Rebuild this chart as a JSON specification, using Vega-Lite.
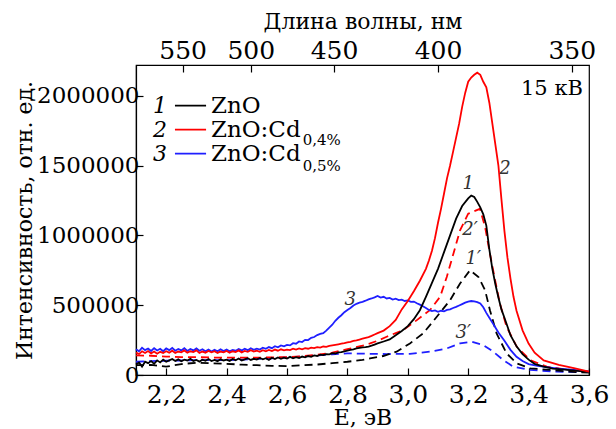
{
  "$schema": "https://vega.github.io/schema/vega-lite/v6.json",
  "width": 453,
  "height": 310,
  "autosize": {"type": "none"},
  "padding": {"left": 136, "top": 65, "right": 27, "bottom": 54},
  "background": "white",
  "config": {
    "font": "DejaVu Serif",
    "view": {"stroke": "black", "strokeWidth": 1.2},
    "text": {"font": "DejaVu Serif"},
    "axis": {
      "grid": false,
      "domainColor": "black",
      "domainWidth": 1.2,
      "tickColor": "black",
      "tickWidth": 1.2,
      "tickSize": -7,
      "labelFont": "DejaVu Serif",
      "labelFontSize": 25,
      "labelColor": "black",
      "labelFlush": false,
      "labelOverlap": false,
      "labelBound": false,
      "titleFont": "DejaVu Serif",
      "titleFontSize": 22,
      "titleFontWeight": "normal",
      "titleColor": "black"
    }
  },
  "datasets": {
    "s1": [
      {"E":2.10,"I":75000},{"E":2.11,"I":90000},{"E":2.12,"I":60000},{"E":2.13,"I":95000},{"E":2.14,"I":85000},
      {"E":2.15,"I":100000},{"E":2.16,"I":80000},{"E":2.17,"I":105000},{"E":2.18,"I":90000},{"E":2.19,"I":110000},
      {"E":2.20,"I":95000},{"E":2.21,"I":105000},{"E":2.22,"I":115000},{"E":2.23,"I":100000},{"E":2.24,"I":112000},
      {"E":2.25,"I":98000},{"E":2.26,"I":110000},{"E":2.27,"I":104000},{"E":2.28,"I":116000},{"E":2.29,"I":100000},
      {"E":2.30,"I":108000},{"E":2.31,"I":96000},{"E":2.32,"I":110000},{"E":2.33,"I":102000},{"E":2.34,"I":114000},
      {"E":2.35,"I":100000},{"E":2.36,"I":108000},{"E":2.37,"I":98000},{"E":2.38,"I":112000},{"E":2.39,"I":104000},
      {"E":2.40,"I":110000},{"E":2.41,"I":100000},{"E":2.42,"I":115000},{"E":2.43,"I":106000},{"E":2.44,"I":118000},
      {"E":2.45,"I":104000},{"E":2.46,"I":112000},{"E":2.47,"I":120000},{"E":2.48,"I":108000},{"E":2.49,"I":116000},
      {"E":2.50,"I":110000},{"E":2.51,"I":122000},{"E":2.52,"I":112000},{"E":2.53,"I":120000},{"E":2.54,"I":108000},
      {"E":2.55,"I":124000},{"E":2.56,"I":114000},{"E":2.57,"I":126000},{"E":2.58,"I":116000},{"E":2.59,"I":124000},
      {"E":2.60,"I":118000},{"E":2.61,"I":130000},{"E":2.62,"I":120000},{"E":2.63,"I":128000},{"E":2.64,"I":122000},
      {"E":2.65,"I":132000},{"E":2.66,"I":126000},{"E":2.67,"I":136000},{"E":2.68,"I":130000},{"E":2.69,"I":140000},
      {"E":2.70,"I":136000},{"E":2.71,"I":146000},{"E":2.72,"I":142000},{"E":2.73,"I":150000},{"E":2.74,"I":148000},
      {"E":2.75,"I":156000},{"E":2.76,"I":154000},{"E":2.77,"I":162000},{"E":2.78,"I":164000},{"E":2.79,"I":170000},
      {"E":2.80,"I":174000},{"E":2.81,"I":180000},{"E":2.82,"I":184000},{"E":2.83,"I":190000},{"E":2.84,"I":194000},
      {"E":2.85,"I":198000},{"E":2.86,"I":200000},{"E":2.87,"I":204000},{"E":2.88,"I":210000},{"E":2.89,"I":218000},
      {"E":2.90,"I":226000},{"E":2.92,"I":240000},{"E":2.94,"I":255000},{"E":2.96,"I":285000},{"E":2.98,"I":315000},
      {"E":3.00,"I":350000},{"E":3.02,"I":400000},{"E":3.04,"I":464000},{"E":3.06,"I":560000},{"E":3.08,"I":660000},
      {"E":3.10,"I":760000},{"E":3.12,"I":880000},{"E":3.14,"I":1000000},{"E":3.16,"I":1120000},{"E":3.18,"I":1210000},
      {"E":3.20,"I":1265000},{"E":3.21,"I":1285000},{"E":3.22,"I":1275000},{"E":3.23,"I":1240000},{"E":3.24,"I":1200000},
      {"E":3.25,"I":1150000},{"E":3.26,"I":1070000},{"E":3.27,"I":900000},{"E":3.28,"I":760000},{"E":3.29,"I":650000},
      {"E":3.30,"I":555000},{"E":3.31,"I":470000},{"E":3.32,"I":410000},{"E":3.34,"I":285000},{"E":3.36,"I":205000},
      {"E":3.38,"I":150000},{"E":3.40,"I":110000},{"E":3.42,"I":80000},{"E":3.45,"I":60000},{"E":3.48,"I":46000},
      {"E":3.52,"I":38000},{"E":3.56,"I":30000},{"E":3.60,"I":22000}
    ],
    "s2": [
      {"E":2.10,"I":160000},{"E":2.11,"I":150000},{"E":2.12,"I":170000},{"E":2.13,"I":158000},{"E":2.14,"I":172000},
      {"E":2.15,"I":155000},{"E":2.16,"I":168000},{"E":2.17,"I":152000},{"E":2.18,"I":166000},{"E":2.19,"I":158000},
      {"E":2.20,"I":170000},{"E":2.21,"I":160000},{"E":2.22,"I":174000},{"E":2.23,"I":158000},{"E":2.24,"I":168000},
      {"E":2.25,"I":162000},{"E":2.26,"I":176000},{"E":2.27,"I":160000},{"E":2.28,"I":170000},{"E":2.29,"I":164000},
      {"E":2.30,"I":176000},{"E":2.31,"I":158000},{"E":2.32,"I":168000},{"E":2.33,"I":160000},{"E":2.34,"I":172000},
      {"E":2.35,"I":162000},{"E":2.36,"I":170000},{"E":2.37,"I":158000},{"E":2.38,"I":168000},{"E":2.39,"I":162000},
      {"E":2.40,"I":172000},{"E":2.41,"I":160000},{"E":2.42,"I":170000},{"E":2.43,"I":164000},{"E":2.44,"I":176000},
      {"E":2.45,"I":162000},{"E":2.46,"I":172000},{"E":2.47,"I":166000},{"E":2.48,"I":178000},{"E":2.49,"I":168000},
      {"E":2.50,"I":174000},{"E":2.51,"I":166000},{"E":2.52,"I":178000},{"E":2.53,"I":170000},{"E":2.54,"I":180000},
      {"E":2.55,"I":172000},{"E":2.56,"I":182000},{"E":2.57,"I":174000},{"E":2.58,"I":184000},{"E":2.59,"I":176000},
      {"E":2.60,"I":182000},{"E":2.61,"I":178000},{"E":2.62,"I":188000},{"E":2.63,"I":182000},{"E":2.64,"I":190000},
      {"E":2.65,"I":184000},{"E":2.66,"I":192000},{"E":2.67,"I":188000},{"E":2.68,"I":196000},{"E":2.69,"I":192000},
      {"E":2.70,"I":200000},{"E":2.71,"I":196000},{"E":2.72,"I":204000},{"E":2.73,"I":202000},{"E":2.74,"I":208000},
      {"E":2.75,"I":212000},{"E":2.76,"I":216000},{"E":2.77,"I":220000},{"E":2.78,"I":224000},{"E":2.79,"I":228000},
      {"E":2.80,"I":234000},{"E":2.81,"I":238000},{"E":2.82,"I":244000},{"E":2.83,"I":248000},{"E":2.84,"I":254000},
      {"E":2.85,"I":260000},{"E":2.86,"I":266000},{"E":2.87,"I":272000},{"E":2.88,"I":280000},{"E":2.89,"I":290000},
      {"E":2.90,"I":300000},{"E":2.92,"I":318000},{"E":2.94,"I":350000},{"E":2.96,"I":395000},{"E":2.98,"I":470000},
      {"E":3.00,"I":530000},{"E":3.02,"I":600000},{"E":3.04,"I":675000},{"E":3.06,"I":760000},{"E":3.07,"I":820000},
      {"E":3.08,"I":890000},{"E":3.09,"I":980000},{"E":3.10,"I":1090000},{"E":3.11,"I":1190000},{"E":3.12,"I":1300000},
      {"E":3.13,"I":1410000},{"E":3.14,"I":1500000},{"E":3.15,"I":1600000},{"E":3.16,"I":1700000},{"E":3.17,"I":1800000},
      {"E":3.18,"I":1920000},{"E":3.19,"I":2020000},{"E":3.20,"I":2100000},{"E":3.21,"I":2130000},{"E":3.22,"I":2150000},
      {"E":3.23,"I":2165000},{"E":3.24,"I":2150000},{"E":3.25,"I":2100000},{"E":3.26,"I":2060000},{"E":3.27,"I":1950000},
      {"E":3.28,"I":1800000},{"E":3.29,"I":1650000},{"E":3.30,"I":1500000},{"E":3.31,"I":1260000},{"E":3.32,"I":1030000},
      {"E":3.33,"I":840000},{"E":3.34,"I":690000},{"E":3.35,"I":560000},{"E":3.36,"I":460000},{"E":3.38,"I":320000},
      {"E":3.40,"I":225000},{"E":3.42,"I":160000},{"E":3.45,"I":105000},{"E":3.50,"I":72000},{"E":3.55,"I":50000},
      {"E":3.60,"I":25000}
    ],
    "s3": [
      {"E":2.10,"I":185000},{"E":2.11,"I":170000},{"E":2.12,"I":195000},{"E":2.13,"I":178000},{"E":2.14,"I":190000},
      {"E":2.15,"I":172000},{"E":2.16,"I":192000},{"E":2.17,"I":176000},{"E":2.18,"I":188000},{"E":2.19,"I":170000},
      {"E":2.20,"I":190000},{"E":2.21,"I":178000},{"E":2.22,"I":194000},{"E":2.23,"I":174000},{"E":2.24,"I":186000},
      {"E":2.25,"I":176000},{"E":2.26,"I":192000},{"E":2.27,"I":172000},{"E":2.28,"I":186000},{"E":2.29,"I":176000},
      {"E":2.30,"I":190000},{"E":2.31,"I":174000},{"E":2.32,"I":184000},{"E":2.33,"I":170000},{"E":2.34,"I":182000},
      {"E":2.35,"I":168000},{"E":2.36,"I":180000},{"E":2.37,"I":170000},{"E":2.38,"I":184000},{"E":2.39,"I":172000},
      {"E":2.40,"I":182000},{"E":2.41,"I":170000},{"E":2.42,"I":180000},{"E":2.43,"I":174000},{"E":2.44,"I":186000},
      {"E":2.45,"I":176000},{"E":2.46,"I":188000},{"E":2.47,"I":178000},{"E":2.48,"I":192000},{"E":2.49,"I":180000},
      {"E":2.50,"I":188000},{"E":2.51,"I":182000},{"E":2.52,"I":196000},{"E":2.53,"I":188000},{"E":2.54,"I":200000},
      {"E":2.55,"I":192000},{"E":2.56,"I":206000},{"E":2.57,"I":198000},{"E":2.58,"I":212000},{"E":2.59,"I":205000},
      {"E":2.60,"I":216000},{"E":2.61,"I":212000},{"E":2.62,"I":228000},{"E":2.63,"I":224000},{"E":2.64,"I":240000},
      {"E":2.65,"I":236000},{"E":2.66,"I":252000},{"E":2.67,"I":250000},{"E":2.68,"I":266000},{"E":2.69,"I":272000},
      {"E":2.70,"I":286000},{"E":2.71,"I":294000},{"E":2.72,"I":300000},{"E":2.73,"I":318000},{"E":2.74,"I":340000},
      {"E":2.75,"I":360000},{"E":2.76,"I":388000},{"E":2.77,"I":410000},{"E":2.78,"I":428000},{"E":2.79,"I":450000},
      {"E":2.80,"I":466000},{"E":2.81,"I":480000},{"E":2.82,"I":498000},{"E":2.83,"I":510000},{"E":2.84,"I":518000},
      {"E":2.85,"I":524000},{"E":2.86,"I":532000},{"E":2.87,"I":542000},{"E":2.88,"I":548000},{"E":2.89,"I":556000},
      {"E":2.90,"I":566000},{"E":2.91,"I":554000},{"E":2.92,"I":560000},{"E":2.93,"I":548000},{"E":2.94,"I":552000},
      {"E":2.95,"I":540000},{"E":2.96,"I":546000},{"E":2.97,"I":536000},{"E":2.98,"I":540000},{"E":2.99,"I":530000},
      {"E":3.00,"I":534000},{"E":3.01,"I":524000},{"E":3.02,"I":526000},{"E":3.03,"I":514000},{"E":3.04,"I":504000},
      {"E":3.05,"I":492000},{"E":3.06,"I":480000},{"E":3.07,"I":466000},{"E":3.08,"I":458000},{"E":3.09,"I":462000},
      {"E":3.10,"I":452000},{"E":3.11,"I":460000},{"E":3.12,"I":456000},{"E":3.13,"I":466000},{"E":3.14,"I":470000},
      {"E":3.15,"I":480000},{"E":3.16,"I":488000},{"E":3.17,"I":498000},{"E":3.18,"I":508000},{"E":3.19,"I":518000},
      {"E":3.20,"I":526000},{"E":3.21,"I":530000},{"E":3.22,"I":528000},{"E":3.23,"I":522000},{"E":3.24,"I":512000},
      {"E":3.25,"I":485000},{"E":3.26,"I":445000},{"E":3.27,"I":410000},{"E":3.28,"I":375000},{"E":3.29,"I":340000},
      {"E":3.30,"I":305000},{"E":3.32,"I":245000},{"E":3.34,"I":180000},{"E":3.36,"I":130000},{"E":3.38,"I":100000},
      {"E":3.40,"I":78000},{"E":3.43,"I":66000},{"E":3.46,"I":56000},{"E":3.50,"I":46000},{"E":3.55,"I":36000},
      {"E":3.60,"I":24000}
    ],
    "s1d": [
      {"E":2.10,"I":70000},{"E":2.15,"I":72000},{"E":2.20,"I":60000},{"E":2.25,"I":78000},{"E":2.30,"I":88000},
      {"E":2.35,"I":84000},{"E":2.40,"I":80000},{"E":2.45,"I":74000},{"E":2.50,"I":70000},{"E":2.55,"I":66000},
      {"E":2.60,"I":64000},{"E":2.65,"I":70000},{"E":2.70,"I":75000},{"E":2.75,"I":85000},{"E":2.80,"I":95000},
      {"E":2.85,"I":108000},{"E":2.875,"I":119000},{"E":2.919,"I":136000},{"E":2.963,"I":167000},{"E":3.007,"I":226000},
      {"E":3.051,"I":298000},{"E":3.096,"I":417000},{"E":3.14,"I":536000},{"E":3.173,"I":655000},{"E":3.206,"I":750000},
      {"E":3.234,"I":702000},{"E":3.256,"I":607000},{"E":3.272,"I":464000},{"E":3.294,"I":298000},{"E":3.327,"I":155000},
      {"E":3.361,"I":83000},{"E":3.405,"I":48000},{"E":3.471,"I":36000},{"E":3.537,"I":24000},{"E":3.60,"I":17000}
    ],
    "s2d": [
      {"E":2.10,"I":140000},{"E":2.15,"I":138000},{"E":2.20,"I":132000},{"E":2.25,"I":128000},{"E":2.30,"I":128000},
      {"E":2.35,"I":125000},{"E":2.40,"I":125000},{"E":2.45,"I":124000},{"E":2.50,"I":124000},{"E":2.55,"I":126000},
      {"E":2.60,"I":128000},{"E":2.65,"I":135000},{"E":2.70,"I":145000},{"E":2.75,"I":160000},{"E":2.80,"I":185000},
      {"E":2.85,"I":210000},{"E":2.875,"I":226000},{"E":2.90,"I":245000},{"E":2.93,"I":274000},{"E":2.96,"I":300000},
      {"E":2.985,"I":321000},{"E":3.03,"I":393000},{"E":3.073,"I":464000},{"E":3.107,"I":560000},{"E":3.129,"I":702000},
      {"E":3.151,"I":869000},{"E":3.173,"I":1036000},{"E":3.20,"I":1155000},{"E":3.239,"I":1190000},{"E":3.256,"I":1059000},
      {"E":3.272,"I":869000},{"E":3.289,"I":679000},{"E":3.305,"I":512000},{"E":3.327,"I":345000},{"E":3.361,"I":202000},
      {"E":3.405,"I":107000},{"E":3.46,"I":60000},{"E":3.537,"I":36000},{"E":3.60,"I":24000}
    ],
    "s3d": [
      {"E":2.10,"I":95000},{"E":2.15,"I":100000},{"E":2.20,"I":102000},{"E":2.25,"I":104000},{"E":2.30,"I":106000},
      {"E":2.35,"I":106000},{"E":2.40,"I":107000},{"E":2.45,"I":110000},{"E":2.50,"I":115000},{"E":2.55,"I":120000},
      {"E":2.60,"I":126000},{"E":2.65,"I":132000},{"E":2.70,"I":140000},{"E":2.75,"I":148000},{"E":2.80,"I":155000},
      {"E":2.875,"I":152000},{"E":2.93,"I":150000},{"E":3.007,"I":152000},{"E":3.073,"I":167000},{"E":3.129,"I":190000},
      {"E":3.173,"I":226000},{"E":3.211,"I":238000},{"E":3.25,"I":214000},{"E":3.283,"I":167000},{"E":3.316,"I":107000},
      {"E":3.349,"I":60000},{"E":3.405,"I":36000},{"E":3.493,"I":24000},{"E":3.60,"I":20000}
    ],
    "curveLabels": [
      {"E":3.200,"I":1369000,"t":"1"},
      {"E":3.322,"I":1476000,"t":"2"},
      {"E":3.206,"I":1036000,"t":"2′"},
      {"E":3.217,"I":833000,"t":"1′"},
      {"E":2.809,"I":536000,"t":"3"},
      {"E":3.184,"I":298000,"t":"3′"}
    ],
    "keyNumbers": [
      {"E":2.1795,"I":1928571,"t":"1"},
      {"E":2.1795,"I":1757143,"t":"2"},
      {"E":2.1795,"I":1585714,"t":"3"}
    ],
    "keyLines": [
      {"E":2.229,"E2":2.332,"I":1928571,"c":"ZnO"},
      {"E":2.229,"E2":2.332,"I":1757143,"c":"ZnO:Cd 0,4%"},
      {"E":2.229,"E2":2.332,"I":1585714,"c":"ZnO:Cd 0,5%"}
    ],
    "keyText": [
      {"E":2.348,"I":1928571,"t":"ZnO"},
      {"E":2.348,"I":1757143,"t":"ZnO:Cd"},
      {"E":2.348,"I":1585714,"t":"ZnO:Cd"}
    ],
    "keySub": [
      {"E":2.652,"I":1680000,"t":"0,4%"},
      {"E":2.652,"I":1500000,"t":"0,5%"}
    ],
    "voltage": [
      {"E":3.58,"I":2050000,"t":"15 кВ"}
    ]
  },
  "encoding": {
    "y": {
      "field": "I",
      "type": "quantitative",
      "scale": {"domain": [0, 2220000], "nice": false, "zero": false},
      "axis": {
        "values": [0, 500000, 1000000, 1500000, 2000000],
        "format": "d",
        "labelFontSize": 23,
        "labelPadding": 4,
        "title": "Интенсивность, отн. ед.",
        "titleX": -100
      }
    }
  },
  "layer": [
    {
      "encoding": {
        "x": {
          "field": "E",
          "type": "quantitative",
          "scale": {"domain": [2.1, 3.6], "nice": false, "zero": false},
          "axis": {
            "orient": "bottom",
            "values": [2.2, 2.4, 2.6, 2.8, 3.0, 3.2, 3.4, 3.6],
            "labelExpr": "replace(format(datum.value, '.1f'), '.', ',')",
            "labelPadding": 14,
            "title": "E, эВ",
            "titlePadding": 0
          }
        }
      },
      "layer": [
        {"data": {"name": "s3d"}, "mark": {"type": "line", "color": "#1f1fff", "strokeWidth": 1.8, "strokeDash": [8, 5]}},
        {"data": {"name": "s1d"}, "mark": {"type": "line", "color": "#000000", "strokeWidth": 1.8, "strokeDash": [8, 5]}},
        {"data": {"name": "s2d"}, "mark": {"type": "line", "color": "#ff0000", "strokeWidth": 1.8, "strokeDash": [8, 5]}},
        {"data": {"name": "s3"}, "mark": {"type": "line", "color": "#1f1fff", "strokeWidth": 1.8}},
        {"data": {"name": "s1"}, "mark": {"type": "line", "color": "#000000", "strokeWidth": 1.8}},
        {"data": {"name": "s2"}, "mark": {"type": "line", "color": "#ff0000", "strokeWidth": 1.8}},
        {
          "data": {"name": "curveLabels"},
          "mark": {"type": "text", "fontStyle": "italic", "fontSize": 18, "color": "#333333", "align": "center", "baseline": "middle"},
          "encoding": {"text": {"field": "t"}}
        },
        {
          "data": {"name": "keyNumbers"},
          "mark": {"type": "text", "fontStyle": "italic", "fontSize": 22, "color": "black", "align": "center", "baseline": "middle"},
          "encoding": {"text": {"field": "t"}}
        },
        {
          "data": {"name": "keyLines"},
          "mark": {"type": "rule", "strokeWidth": 1.8},
          "encoding": {
            "x2": {"field": "E2"},
            "color": {
              "field": "c",
              "type": "nominal",
              "scale": {"domain": ["ZnO", "ZnO:Cd 0,4%", "ZnO:Cd 0,5%"], "range": ["#000000", "#ff0000", "#1f1fff"]},
              "legend": null
            }
          }
        },
        {
          "data": {"name": "keyText"},
          "mark": {"type": "text", "fontSize": 23, "color": "black", "align": "left", "baseline": "middle"},
          "encoding": {"text": {"field": "t"}}
        },
        {
          "data": {"name": "keySub"},
          "mark": {"type": "text", "fontSize": 15, "color": "black", "align": "left", "baseline": "middle"},
          "encoding": {"text": {"field": "t"}}
        }
      ]
    },
    {
      "data": {"name": "voltage"},
      "mark": {"type": "text", "fontSize": 21, "color": "black", "align": "right", "baseline": "middle"},
      "encoding": {
        "x": {
          "field": "E",
          "type": "quantitative",
          "scale": {"domain": [2.1, 3.6], "nice": false, "zero": false},
          "axis": {
            "orient": "top",
            "values": [2.2545, 2.48, 2.7556, 3.1, 3.5429],
            "labelExpr": "format(1240 / datum.value, '.0f')",
            "labelPadding": 9,
            "title": "Длина волны, нм",
            "titlePadding": 5
          }
        },
        "text": {"field": "t"}
      }
    }
  ],
  "resolve": {"scale": {"x": "independent"}}
}
